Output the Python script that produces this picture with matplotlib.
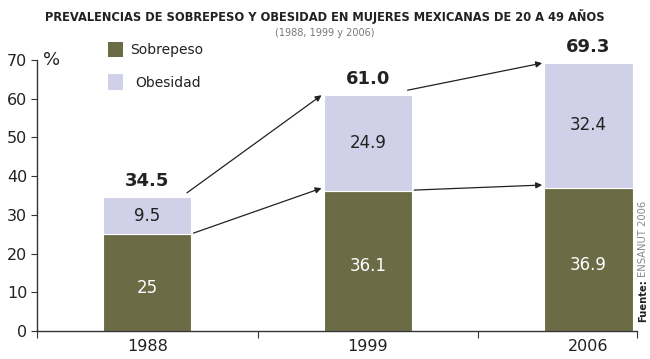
import matplotlib
matplotlib.use("Agg")
import matplotlib.pyplot as plt
import numpy as np
from matplotlib.patches import Rectangle

years = ["1988", "1999", "2006"]
sobrepeso = [25.0, 36.1, 36.9]
obesidad = [9.5, 24.9, 32.4]
totales = [34.5, 61.0, 69.3]
sob_labels = ["25", "36.1", "36.9"]
obe_labels = ["9.5", "24.9", "32.4"]
tot_labels = ["34.5", "61.0", "69.3"]
yticks = [0, 10, 20, 30, 40, 50, 60, 70]

c_sob = "#6b6b45"
c_obe = "#d0d0e8"
dark = "#222222"

fig = plt.figure(figsize=(6.5, 3.59), dpi=100)
ax = fig.add_axes([37/650, 1-331/359, 600/650, 271/359])
x = np.arange(len(years))
w = 0.4
ax.bar(x, sobrepeso, width=w, color=c_sob, edgecolor="white", linewidth=0.8)
ax.bar(x, obesidad, width=w, bottom=sobrepeso, color=c_obe, edgecolor="white", linewidth=0.8)

ax.set_xlim(-0.5, 2.22)
ax.set_ylim(0, 70)
ax.set_yticks(yticks)
ax.set_yticklabels([str(t) for t in yticks], fontsize=11.5, color=dark)
ax.set_xticks([-0.5, 0.5, 1.5, 2.22])
ax.set_xticklabels([])
ax.set_xticks(x, minor=True)
ax.set_xticklabels(years, minor=True, fontsize=11.5, color=dark)
ax.tick_params(axis="x", which="minor", length=0, pad=6)
ax.tick_params(axis="x", which="major", length=5, direction="out", color="#333333")
ax.tick_params(axis="y", length=4, direction="out", color="#333333", pad=3)
for s in ["top", "right"]:
    ax.spines[s].set_visible(False)
for s in ["left", "bottom"]:
    ax.spines[s].set_color("#333333")
    ax.spines[s].set_linewidth(1.0)

for i in range(len(years)):
    ax.text(x[i], sobrepeso[i] / 2 - 1.3, sob_labels[i], ha="center", va="center",
            color="white", fontsize=12)
    ax.text(x[i], sobrepeso[i] + obesidad[i] / 2, obe_labels[i], ha="center", va="center",
            color=dark, fontsize=12)
    ax.text(x[i], totales[i] + 1.8, tot_labels[i], ha="center", va="bottom",
            color=dark, fontsize=13, fontweight="bold")

# arrows between consecutive bars
for i in range(len(years) - 1):
    ax.annotate("", xy=(x[i+1] - w/2 - 0.01, totales[i+1] - 0.1),
                xytext=(x[i] + w/2 - 0.02, totales[i] + 1.2),
                arrowprops=dict(arrowstyle="-|>", color=dark, lw=0.9,
                                mutation_scale=9, shrinkA=0, shrinkB=0))
    ax.annotate("", xy=(x[i+1] - w/2 - 0.01, sobrepeso[i+1] + 0.8),
                xytext=(x[i] + w/2 + 0.01, sobrepeso[i] + 0.3),
                arrowprops=dict(arrowstyle="-|>", color=dark, lw=0.9,
                                mutation_scale=9, shrinkA=0, shrinkB=0))

# % label
fig.text(43/650, 1-60/359, "%", fontsize=13, color=dark, ha="left", va="center")

# legend
fig.patches.append(Rectangle((108/650, 1-57/359), 15/650, 15/359, transform=fig.transFigure,
                             facecolor=c_sob, edgecolor="none"))
fig.patches.append(Rectangle((108/650, 1-90/359), 15/650, 16/359, transform=fig.transFigure,
                             facecolor=c_obe, edgecolor="none"))
fig.text(130/650, 1-50/359, "Sobrepeso", fontsize=10, color=dark, va="center", ha="left")
fig.text(135/650, 1-83/359, "Obesidad", fontsize=10, color=dark, va="center", ha="left")

# title
fig.text(325/650, 1-17/359, "PREVALENCIAS DE SOBREPESO Y OBESIDAD EN MUJERES MEXICANAS DE 20 A 49 AÑOS",
         fontsize=8.3, fontweight="bold", color=dark, ha="center", va="center")
fig.text(325/650, 1-33/359, "(1988, 1999 y 2006)", fontsize=7, color="#777777",
         ha="center", va="center")

# source
t1 = fig.text(643/650, 1-322/359, "Fuente:", rotation=90, fontsize=7.2, fontweight="bold",
              color=dark, ha="center", va="bottom")
fig.canvas.draw()
bb = t1.get_window_extent(renderer=fig.canvas.get_renderer())
top_px = bb.y1 / fig.dpi / fig.get_figheight()
fig.text(643/650, top_px + 2/359, "ENSANUT 2006", rotation=90, fontsize=7.2,
         color="#888888", ha="center", va="bottom")

fig.savefig("out.png", dpi=100)
